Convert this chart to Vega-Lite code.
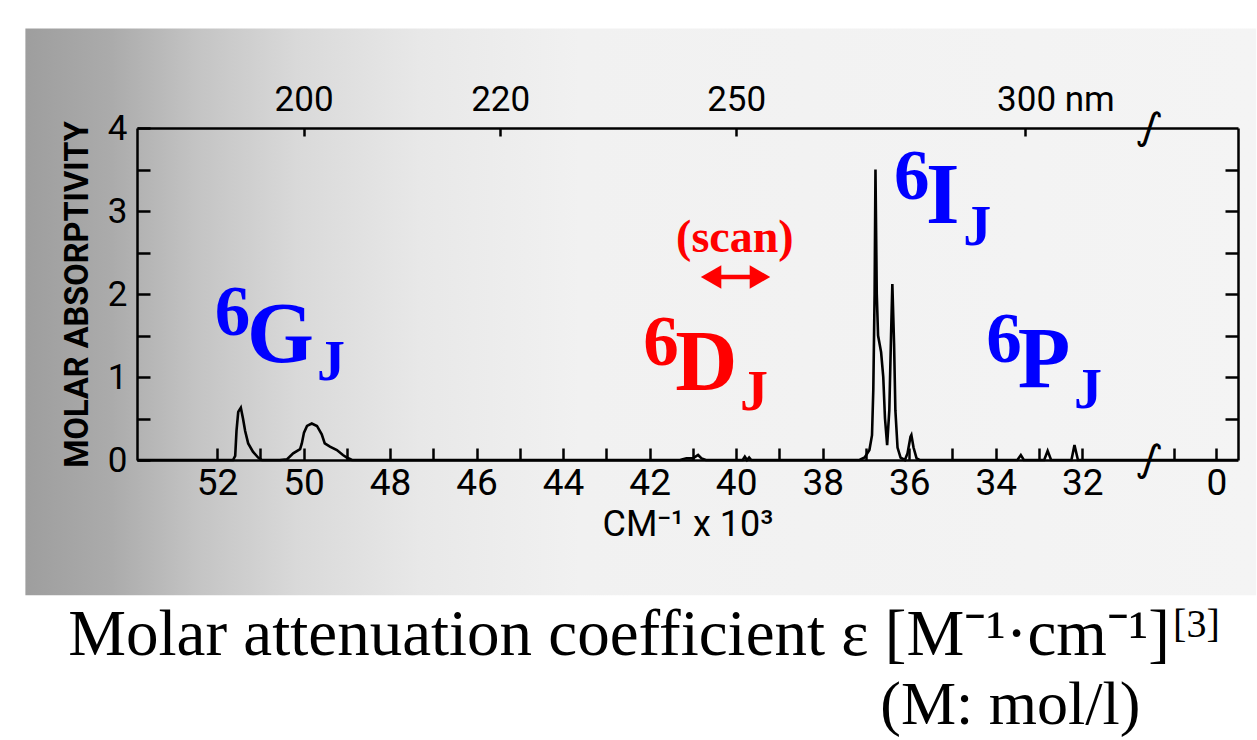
{
  "$schema": "https://vega.github.io/schema/vega-lite/v6.json",
  "width": 1101,
  "height": 332,
  "autosize": {"type": "none"},
  "padding": {"left": 137, "top": 128, "right": 19, "bottom": 280},
  "background": "white",
  "config": {"view": {"stroke": null}},
  "datasets": {
    "backdrop": [{"x0": 56.43, "x1": 27.98, "y0": 5.2, "y1": -1.63}],
    "spectrum": [
      {"wn": 53.85, "a": 0}, {"wn": 51.8, "a": 0}, {"wn": 51.63, "a": 0}, {"wn": 51.58, "a": 0.05},
      {"wn": 51.55, "a": 0.35}, {"wn": 51.51, "a": 0.58}, {"wn": 51.45, "a": 0.63}, {"wn": 51.4, "a": 0.5},
      {"wn": 51.35, "a": 0.35}, {"wn": 51.28, "a": 0.2}, {"wn": 51.17, "a": 0.1}, {"wn": 51.05, "a": 0.03},
      {"wn": 50.96, "a": 0}, {"wn": 50.55, "a": 0}, {"wn": 50.38, "a": 0.01}, {"wn": 50.24, "a": 0.08},
      {"wn": 50.08, "a": 0.13}, {"wn": 50.04, "a": 0.2}, {"wn": 49.99, "a": 0.33}, {"wn": 49.92, "a": 0.41},
      {"wn": 49.81, "a": 0.44}, {"wn": 49.69, "a": 0.41}, {"wn": 49.58, "a": 0.31}, {"wn": 49.51, "a": 0.2},
      {"wn": 49.39, "a": 0.16}, {"wn": 49.23, "a": 0.12}, {"wn": 49.09, "a": 0.06}, {"wn": 49.0, "a": 0.03},
      {"wn": 48.88, "a": 0}, {"wn": 41.3, "a": 0}, {"wn": 41.15, "a": 0.02}, {"wn": 41.0, "a": 0.02},
      {"wn": 40.88, "a": 0.06}, {"wn": 40.8, "a": 0.02}, {"wn": 40.7, "a": 0}, {"wn": 39.85, "a": 0},
      {"wn": 39.8, "a": 0.04}, {"wn": 39.75, "a": 0}, {"wn": 39.7, "a": 0.03}, {"wn": 39.65, "a": 0},
      {"wn": 37.15, "a": 0}, {"wn": 37.03, "a": 0.03}, {"wn": 36.92, "a": 0.12}, {"wn": 36.86, "a": 0.3},
      {"wn": 36.83, "a": 0.85}, {"wn": 36.8, "a": 2.0}, {"wn": 36.78, "a": 3.5}, {"wn": 36.75, "a": 2.0},
      {"wn": 36.72, "a": 1.5}, {"wn": 36.65, "a": 1.3}, {"wn": 36.6, "a": 1.0}, {"wn": 36.56, "a": 0.5},
      {"wn": 36.51, "a": 0.18}, {"wn": 36.46, "a": 0.6}, {"wn": 36.42, "a": 1.5}, {"wn": 36.39, "a": 2.12},
      {"wn": 36.35, "a": 1.4}, {"wn": 36.32, "a": 0.6}, {"wn": 36.27, "a": 0.15}, {"wn": 36.2, "a": 0.03},
      {"wn": 36.1, "a": 0}, {"wn": 36.04, "a": 0.08}, {"wn": 35.97, "a": 0.28}, {"wn": 35.95, "a": 0.3},
      {"wn": 35.9, "a": 0.15}, {"wn": 35.83, "a": 0.02}, {"wn": 35.76, "a": 0}, {"wn": 33.5, "a": 0},
      {"wn": 33.42, "a": 0.06}, {"wn": 33.35, "a": 0}, {"wn": 32.88, "a": 0}, {"wn": 32.8, "a": 0.11},
      {"wn": 32.72, "a": 0}, {"wn": 32.25, "a": 0}, {"wn": 32.18, "a": 0.18}, {"wn": 32.1, "a": 0},
      {"wn": 28.4, "a": 0}
    ],
    "breaks": [{"wn": 30.45, "a": 0}, {"wn": 30.45, "a": 4}],
    "terms": [
      {"wn": 52.05, "a": 1.506, "txt": "6", "part": "sup", "term": "6G"},
      {"wn": 51.31, "a": 1.18, "txt": "G", "part": "main", "term": "6G"},
      {"wn": 49.69, "a": 0.964, "txt": "J", "part": "sub", "term": "6G"},
      {"wn": 42.15, "a": 1.145, "txt": "6", "part": "sup", "term": "6D"},
      {"wn": 41.41, "a": 0.843, "txt": "D", "part": "main", "term": "6D"},
      {"wn": 39.91, "a": 0.602, "txt": "J", "part": "sub", "term": "6D"},
      {"wn": 36.35, "a": 3.14, "txt": "6", "part": "sup", "term": "6I"},
      {"wn": 35.61, "a": 2.855, "txt": "I", "part": "main", "term": "6I"},
      {"wn": 34.75, "a": 2.59, "txt": "J", "part": "sub", "term": "6I"},
      {"wn": 34.22, "a": 1.18, "txt": "6", "part": "sup", "term": "6P"},
      {"wn": 33.49, "a": 0.88, "txt": "P", "part": "main", "term": "6P"},
      {"wn": 32.19, "a": 0.627, "txt": "J", "part": "sub", "term": "6P"}
    ],
    "scan": [{"wn": 40.03, "a": 2.506, "txt": "(scan)"}],
    "arrowShaft": [{"wn": 40.7, "wn2": 39.33, "a": 2.205}],
    "arrowHeads": [{"wn": 40.58, "a": 2.205, "side": "left"}, {"wn": 39.45, "a": 2.205, "side": "right"}],
    "caption": [{"wn": 55.44, "a": -2.349, "txt": "Molar attenuation coefficient ε [M⁻¹·cm⁻¹]"}],
    "units": [{"wn": 36.67, "a": -3.181, "txt": "(M: mol/l)"}],
    "reference": [{"wn": 29.9, "a": -2.13, "txt": "[3]"}]
  },
  "layer": [
    {
      "data": {"name": "backdrop"},
      "mark": {"type": "rect", "stroke": null, "fill": {"gradient": "linear", "x1": 0, "y1": 0, "x2": 1, "y2": 0, "stops": [
        {"offset": 0, "color": "#9e9e9e"}, {"offset": 0.07, "color": "#ababab"}, {"offset": 0.14, "color": "#c4c4c4"},
        {"offset": 0.22, "color": "#d9d9d9"}, {"offset": 0.32, "color": "#e8e8e8"}, {"offset": 0.45, "color": "#f1f1f1"},
        {"offset": 1, "color": "#f4f4f4"}]}},
      "encoding": {
        "x": {"field": "x0", "type": "quantitative", "scale": {"domain": [28.4, 53.85], "reverse": true, "nice": false, "zero": false}, "axis": null},
        "x2": {"field": "x1"},
        "y": {"field": "y0", "type": "quantitative", "scale": {"domain": [0, 4], "nice": false, "zero": false}, "axis": null},
        "y2": {"field": "y1"}
      }
    },
    {
      "data": {"name": "spectrum"},
      "mark": {"type": "line", "color": "black", "strokeWidth": 2.6, "interpolate": "linear"},
      "encoding": {
        "x": {"field": "wn", "type": "quantitative", "scale": {"domain": [28.4, 53.85], "reverse": true, "nice": false, "zero": false},
          "axis": {"orient": "bottom", "zindex": 1, "grid": false,
            "values": [52, 51, 50, 49, 48, 47, 46, 45, 44, 43, 42, 41, 40, 39, 38, 37, 36, 35, 34, 33, 32, 29.87, 28.9],
            "labelExpr": "datum.value < 29.5 ? '0' : datum.value < 30.5 ? '' : (datum.value % 2 === 0 ? datum.label : '')",
            "tickSize": -12, "tickWidth": 2.5, "tickColor": "black", "domainColor": "black", "domainWidth": 2.5,
            "labelFont": "Roboto", "labelFontSize": 37, "labelColor": "black", "labelPadding": 17,
            "labelFlush": false, "labelOverlap": false,
            "title": "CM⁻¹ x 10³", "titleFont": "Roboto", "titleFontSize": 36, "titleFontWeight": "normal",
            "titleColor": "black", "titlePadding": 6}},
        "y": {"field": "a", "type": "quantitative", "scale": {"domain": [0, 4], "nice": false, "zero": false},
          "axis": {"orient": "left", "zindex": 1, "grid": false,
            "values": [0, 0.5, 1, 1.5, 2, 2.5, 3, 3.5, 4],
            "labelExpr": "datum.value % 1 === 0 ? format(datum.value, 'd') : ''",
            "tickSize": -13, "tickWidth": 2.5, "tickColor": "black", "domainColor": "black", "domainWidth": 2.5,
            "labelFont": "Roboto", "labelFontSize": 35, "labelColor": "black", "labelPadding": 23,
            "labelFlush": false, "labelOverlap": false,
            "title": "MOLAR ABSORPTIVITY", "titleFont": "Roboto", "titleFontSize": 32.5, "titleFontWeight": "bold",
            "titleColor": "black", "titlePadding": 13}}
      }
    },
    {
      "data": {"name": "breaks"},
      "mark": {"type": "text", "text": "∫", "font": "DejaVu Sans", "fontSize": 40, "baseline": "middle", "align": "center", "color": "black", "angle": 15},
      "encoding": {
        "x": {"field": "wn", "type": "quantitative", "scale": {"domain": [28.4, 53.85], "reverse": true, "nice": false, "zero": false},
          "axis": {"orient": "top", "zindex": 1, "grid": false,
            "values": [50, 45.4545, 40, 33.3333],
            "labelExpr": "round(10000 / datum.value) + (datum.value < 35 ? ' nm' : '')",
            "labelAlign": {"condition": {"test": "datum.value < 35", "value": "left"}, "value": "center"},
            "labelOffset": {"condition": {"test": "datum.value < 35", "value": -28}, "value": 0},
            "tickSize": -8, "tickWidth": 2.5, "tickColor": "black", "domainColor": "black", "domainWidth": 2.5,
            "labelFont": "Roboto", "labelFontSize": 35, "labelColor": "black", "labelPadding": 19,
            "labelFlush": false, "labelOverlap": false, "title": null}},
        "y": {"field": "a", "type": "quantitative", "scale": {"domain": [0, 4], "nice": false, "zero": false},
          "axis": {"orient": "right", "zindex": 1, "grid": false,
            "values": [0.5, 1, 1.5, 2, 2.5, 3, 3.5], "labels": false,
            "tickSize": -13, "tickWidth": 2.5, "tickColor": "black", "domainColor": "black", "domainWidth": 2.5,
            "title": null}}
      }
    },
    {
      "data": {"name": "terms"},
      "mark": {"type": "text", "font": "Liberation Serif", "fontWeight": "bold", "align": "left", "baseline": "alphabetic"},
      "encoding": {
        "x": {"field": "wn", "type": "quantitative", "scale": {"domain": [28.4, 53.85], "reverse": true, "nice": false, "zero": false}, "axis": null},
        "y": {"field": "a", "type": "quantitative", "scale": {"domain": [0, 4], "nice": false, "zero": false}, "axis": null},
        "text": {"field": "txt"},
        "color": {"field": "term", "type": "nominal", "scale": {"domain": ["6G", "6D", "6I", "6P"], "range": ["#0000ff", "#ff0000", "#0000ff", "#0000ff"]}, "legend": null},
        "size": {"field": "part", "type": "nominal", "scale": {"domain": ["main", "sup", "sub"], "range": [86, 56, 56]}, "legend": null}
      }
    },
    {
      "data": {"name": "scan"},
      "mark": {"type": "text", "font": "Liberation Serif", "fontWeight": "bold", "fontSize": 46, "align": "center", "baseline": "alphabetic", "color": "#ff0000"},
      "encoding": {
        "x": {"field": "wn", "type": "quantitative", "scale": {"domain": [28.4, 53.85], "reverse": true, "nice": false, "zero": false}, "axis": null},
        "y": {"field": "a", "type": "quantitative", "scale": {"domain": [0, 4], "nice": false, "zero": false}, "axis": null},
        "text": {"field": "txt"}
      }
    },
    {
      "data": {"name": "arrowShaft"},
      "mark": {"type": "rule", "color": "#ff0000", "strokeWidth": 4.5},
      "encoding": {
        "x": {"field": "wn", "type": "quantitative", "scale": {"domain": [28.4, 53.85], "reverse": true, "nice": false, "zero": false}, "axis": null},
        "x2": {"field": "wn2"},
        "y": {"field": "a", "type": "quantitative", "scale": {"domain": [0, 4], "nice": false, "zero": false}, "axis": null}
      }
    },
    {
      "data": {"name": "arrowHeads"},
      "mark": {"type": "point", "filled": true, "color": "#ff0000", "size": 560, "opacity": 1},
      "encoding": {
        "x": {"field": "wn", "type": "quantitative", "scale": {"domain": [28.4, 53.85], "reverse": true, "nice": false, "zero": false}, "axis": null},
        "y": {"field": "a", "type": "quantitative", "scale": {"domain": [0, 4], "nice": false, "zero": false}, "axis": null},
        "shape": {"field": "side", "type": "nominal", "scale": {"domain": ["left", "right"], "range": ["triangle-left", "triangle-right"]}, "legend": null}
      }
    },
    {
      "data": {"name": "caption"},
      "mark": {"type": "text", "font": "Liberation Serif", "fontSize": 65, "align": "left", "baseline": "alphabetic", "color": "black"},
      "encoding": {
        "x": {"field": "wn", "type": "quantitative", "scale": {"domain": [28.4, 53.85], "reverse": true, "nice": false, "zero": false}, "axis": null},
        "y": {"field": "a", "type": "quantitative", "scale": {"domain": [0, 4], "nice": false, "zero": false}, "axis": null},
        "text": {"field": "txt"}
      }
    },
    {
      "data": {"name": "units"},
      "mark": {"type": "text", "font": "Liberation Serif", "fontSize": 62, "align": "left", "baseline": "alphabetic", "color": "black"},
      "encoding": {
        "x": {"field": "wn", "type": "quantitative", "scale": {"domain": [28.4, 53.85], "reverse": true, "nice": false, "zero": false}, "axis": null},
        "y": {"field": "a", "type": "quantitative", "scale": {"domain": [0, 4], "nice": false, "zero": false}, "axis": null},
        "text": {"field": "txt"}
      }
    },
    {
      "data": {"name": "reference"},
      "mark": {"type": "text", "font": "Liberation Serif", "fontSize": 40, "align": "left", "baseline": "alphabetic", "color": "black"},
      "encoding": {
        "x": {"field": "wn", "type": "quantitative", "scale": {"domain": [28.4, 53.85], "reverse": true, "nice": false, "zero": false}, "axis": null},
        "y": {"field": "a", "type": "quantitative", "scale": {"domain": [0, 4], "nice": false, "zero": false}, "axis": null},
        "text": {"field": "txt"}
      }
    }
  ],
  "resolve": {"axis": {"x": "independent", "y": "independent"}}
}
